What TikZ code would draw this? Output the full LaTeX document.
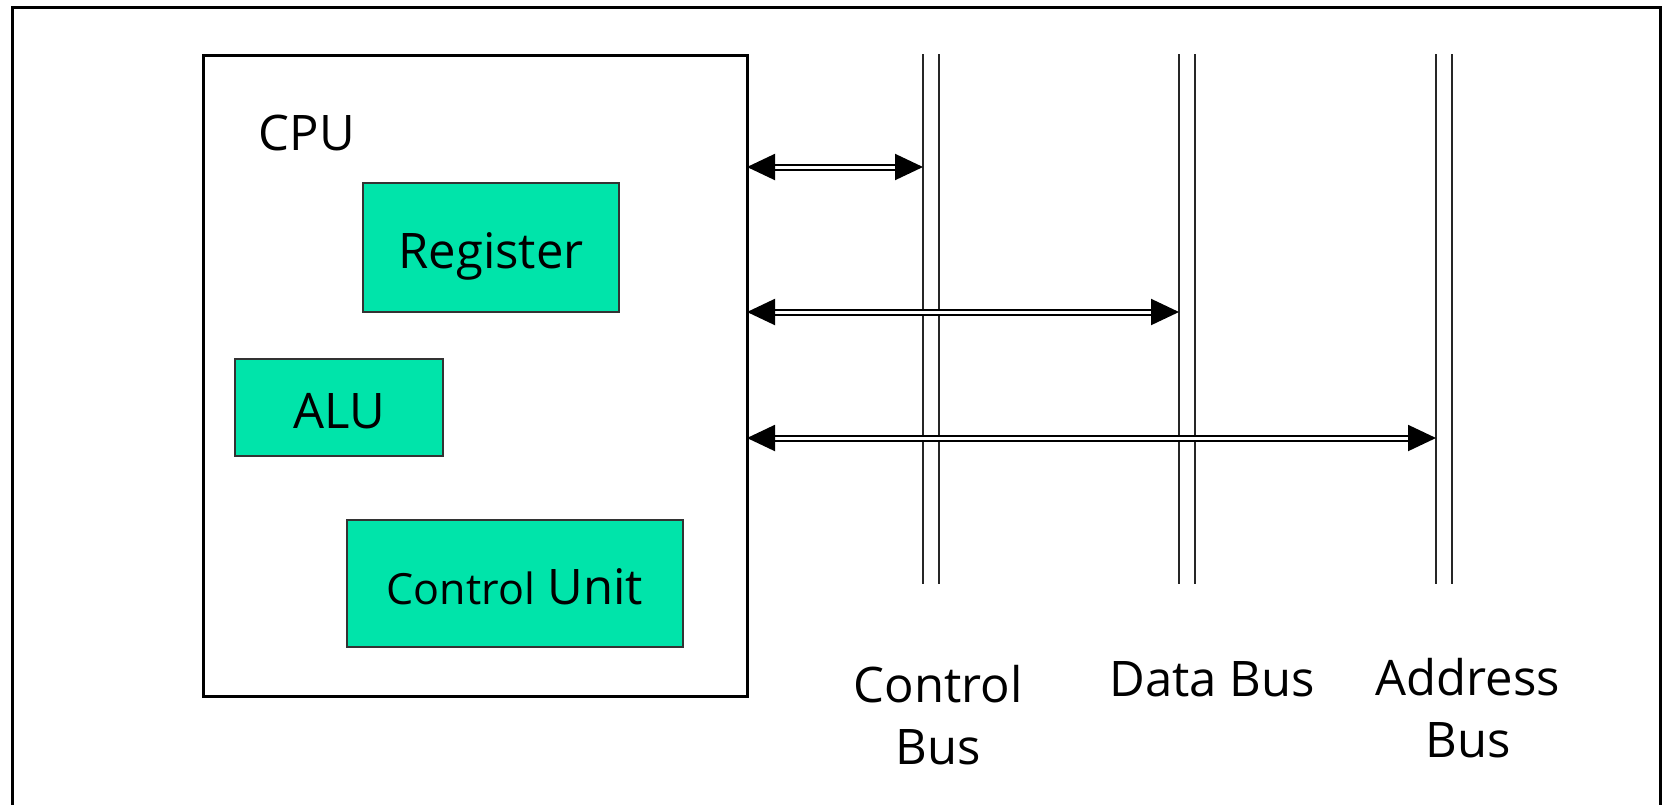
\documentclass[tikz,border=0pt]{standalone}
\usepackage{fontspec}
\setmainfont{Open Sans}
\usetikzlibrary{arrows.meta}
\definecolor{unitgreen}{RGB}{0,228,170}
\tikzset{
	unit/.style={draw=black!80, fill=unitgreen, line width=0.75pt, inner sep=0pt, outer sep=0pt,
		text height=0.86em, text depth=0pt},
	busline/.style={black!85, line width=1pt},
	busarrow/.style={double, double distance=1.5pt, line width=1pt,
		{Triangle[length=14pt,width=13pt]}-{Triangle[length=14pt,width=13pt]}},
}
\begin{document}
\begin{tikzpicture}[x=0.5pt,y=-0.5pt]
\useasboundingbox (0,0) rectangle (1663,804);
\fontsize{24.5}{31}\selectfont
% outer frame
				\draw[line width=1.5pt] (12,7) rectangle (1660,830);
% cpu and its units
				\node[draw, line width=1.5pt, outer sep=0pt, minimum width=272pt, minimum height=320.5pt] (cpu) at (475,375.5) {};
				\node[anchor=west] (cpulabel) at (242,133) {CPU};
				\node[unit, minimum width=128pt, minimum height=64.5pt] (reg) at (491,247.5) {Register};
				\node[unit, minimum width=104pt, minimum height=48.5pt] (alu) at (339,407.5) {ALU};
				\node[unit, minimum width=168pt, minimum height=63.5pt] (cu) at (515,583.5) {{\fontsize{21.5}{31}\selectfont Control} Unit};
% bus lines
				\foreach \x in {923,1179,1436}
				\draw[busline] (\x,54) -- (\x,584) (\x+16,54) -- (\x+16,584);
				\coordinate (cbus) at (923,167);
				\coordinate (dbus) at (1179,312);
				\coordinate (abus) at (1436,438);
% arrows cpu to bus
				\draw[busarrow] (cpu.east |- cbus) -- (cbus);
				\draw[busarrow] (cpu.east |- dbus) -- (dbus);
				\draw[busarrow] (cpu.east |- abus) -- (abus);
% bus labels
				\node[align=center] (cbuslabel) at (938,715) {Control\\Bus};
				\node (dbuslabel) at (1212,679) {Data Bus};
				\node[align=center] (abuslabel) at (1468,708) {Address\\Bus};

\end{tikzpicture}
\end{document}
